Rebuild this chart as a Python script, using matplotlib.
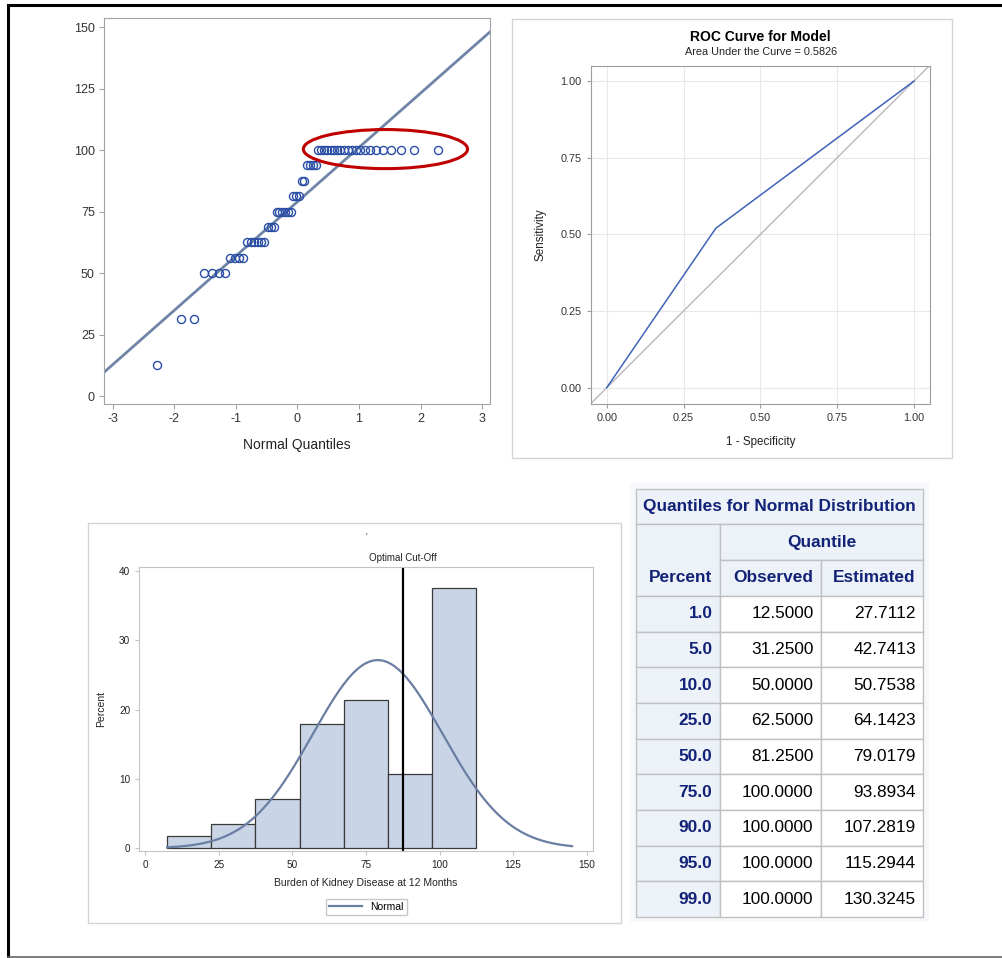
import numpy as np
import matplotlib.pyplot as plt
from matplotlib.patches import Ellipse, Rectangle
from statistics import NormalDist

plt.rcParams['font.family'] = ['Liberation Sans', 'DejaVu Sans']
plt.rcParams['axes.unicode_minus'] = False

W, H = 1002, 958

# burden of kidney disease at 12 months: observed levels and number of patients at each
levels = [12.5, 31.25, 50, 56.25, 62.5, 68.75, 75, 81.25, 87.5, 93.75, 100]
counts = [1, 2, 4, 4, 6, 3, 6, 3, 2, 4, 21]

# ROC curve for the model
fpr = [0.0, 0.355, 1.0]
tpr = [0.0, 0.52, 1.0]
auc = 0.5826
cutoff = 87.5

# quantiles table
pct = [1.0, 5.0, 10.0, 25.0, 50.0, 75.0, 90.0, 95.0, 99.0]
observed = [12.5, 31.25, 50.0, 62.5, 81.25, 100.0, 100.0, 100.0, 100.0]
estimated = [27.7112, 42.7413, 50.7538, 64.1423, 79.0179, 93.8934, 107.2819, 115.2944, 130.3245]

obs = np.repeat(levels, counts)
n = len(obs)
mu, sd = obs.mean(), obs.std(ddof=1)


def rect(l, t, r, b):
    # pixel box -> figure fraction
    return [l / W, 1 - b / H, (r - l) / W, (b - t) / H]


def style(ax, color, size, length):
    for s in ax.spines.values():
        s.set_color(color)
    ax.tick_params(colors=color, labelcolor='#333333', labelsize=size, length=length, width=0.8)


fig = plt.figure(figsize=(W / 100, H / 100), dpi=100)

# background layer in pixel coordinates (frame, panel borders, table)
bg = fig.add_axes([0, 0, 1, 1])
bg.set_xlim(0, W)
bg.set_ylim(H, 0)
bg.axis('off')
bg.plot([8, 8], [5, 957], color='black', lw=2.2)
bg.plot([8, W], [5, 5], color='black', lw=2.2)
bg.plot([8, W], [957, 957], color='#666666', lw=1.2)
bg.add_patch(Rectangle((511.7, 19.3), 440, 439, fill=False, ec='#d4d4d4', lw=1))
bg.add_patch(Rectangle((87.7, 523), 533.3, 400, fill=False, ec='#d4d4d4', lw=1))

# ---- normal QQ plot ----
nd = NormalDist()
qx = [nd.inv_cdf((i - 0.375) / (n + 0.25)) for i in range(1, n + 1)]

ax1 = fig.add_axes(rect(104, 18, 490, 404))
ax1.axline((0, mu), slope=sd, color='#6f84a6', lw=2, zorder=1)
ax1.plot(qx, obs, 'o', mfc='none', mec='#2a4ea6', ms=5.8, mew=1, zorder=2)
ax1.add_patch(Ellipse((1.43, 100.4), 2.67, 15.9, fill=False, ec='#c00000', lw=2.2, zorder=3))
ax1.set_xlim(-3.146, 3.13)
ax1.set_ylim(-3.25, 153.7)
ax1.set_xticks(range(-3, 4))
ax1.set_yticks(range(0, 151, 25))
style(ax1, '#a0a4a8', 9, 3.6)
ax1.tick_params(pad=3)
ax1.set_xlabel('Normal Quantiles', fontsize=10, color='#222222', labelpad=9)

# ---- ROC curve ----
ax2 = fig.add_axes(rect(590.7, 65.7, 930, 404))
ax2.axline((0, 0), (1, 1), color='#b8b8b8', lw=1)
ax2.plot(fpr, tpr, color='#3f63b8', lw=1.1)
ax2.set_xlim(-0.052, 1.052)
ax2.set_ylim(-0.053, 1.05)
ticks = [0, 0.25, 0.5, 0.75, 1.0]
ax2.set_xticks(ticks)
ax2.set_yticks(ticks)
ax2.set_xticklabels(['%.2f' % t for t in ticks])
ax2.set_yticklabels(['%.2f' % t for t in ticks])
ax2.grid(color='#e8e8e8', lw=0.8)
ax2.set_axisbelow(True)
style(ax2, '#9a9ea4', 7.8, 3)
ax2.set_xlabel('1 - Specificity', fontsize=8.4, color='#222222', labelpad=9)
ax2.set_ylabel('Sensitivity', fontsize=8.4, color='#222222', labelpad=10)
bg.text(760.7, 37, 'ROC Curve for Model', fontsize=10, fontweight='bold', ha='center', va='center')
bg.text(760.7, 51.7, 'Area Under the Curve = %.4f' % auc, fontsize=7.8, ha='center', va='center', color='#222222')

# ---- histogram with normal curve ----
ax3 = fig.add_axes(rect(139.3, 566.7, 592.7, 851))
edges = np.arange(7.5, 113, 15)
ax3.hist(obs, bins=edges, weights=np.full(n, 100 / n), color='#c9d5e6', edgecolor='#3a3a3a', lw=0.9)
xs = np.linspace(7.5, 145, 300)
ax3.plot(xs, 100 * 15 * np.exp(-0.5 * ((xs - mu) / sd) ** 2) / (sd * np.sqrt(2 * np.pi)),
         color='#6a7ea3', lw=1.6, label='Normal')
ax3.axvline(cutoff, color='black', lw=1.6)
ax3.text(cutoff, 1.032, 'Optimal Cut-Off', transform=ax3.get_xaxis_transform(),
         ha='center', va='center', fontsize=7, color='#222222')
ax3.set_xlim(-1.94, 152)
ax3.set_ylim(-0.39, 40.6)
ax3.set_xticks(range(0, 151, 25))
ax3.set_yticks(range(0, 41, 10))
style(ax3, '#c4c4c4', 7.2, 3)
ax3.tick_params(labelcolor='#222222')
ax3.set_xlabel('Burden of Kidney Disease at 12 Months', fontsize=7.5, color='#222222', labelpad=6)
ax3.set_ylabel('Percent', fontsize=7.5, color='#222222', labelpad=9)
ax3.legend(loc='center', bbox_to_anchor=(366.3 / W, 1 - 907 / H), bbox_transform=fig.transFigure,
           fontsize=7.5, fancybox=False, edgecolor='#c8c8c8', handlelength=3.2,
           borderpad=0.3, framealpha=1)
bg.text(366, 536, "'", fontsize=6, ha='center', va='center')

# ---- quantiles table ----
hdr_bg, hdr_fg, line = '#edf2f9', '#112277', '#c1c1c1'
cols = [636, 720, 821, 923.3]
bg.add_patch(Rectangle((630, 483), 299, 439, fc='#f6f8fb', ec='none'))


def cell(l, t, r, b, fc):
    bg.add_patch(Rectangle((l, t), r - l, b - t, fc=fc, ec=line, lw=1))


cell(636, 489, 923.3, 524.3, hdr_bg)
cell(636, 524.3, 720, 596, hdr_bg)
cell(720, 524.3, 923.3, 560.3, hdr_bg)
cell(720, 560.3, 821, 596, hdr_bg)
cell(821, 560.3, 923.3, 596, hdr_bg)
tfont = dict(fontsize=12.4, va='center')
bg.text(779.7, 506.7, 'Quantiles for Normal Distribution', ha='center', color=hdr_fg, fontweight='bold', **tfont)
bg.text(821.7, 542.3, 'Quantile', ha='center', color=hdr_fg, fontweight='bold', **tfont)
for txt, r in zip(['Percent', 'Observed', 'Estimated'], cols[1:]):
    bg.text(r - 7.5, 578, txt, ha='right', color=hdr_fg, fontweight='bold', **tfont)

row_h = (917 - 596) / len(pct)
for i, (p, o, e) in enumerate(zip(pct, observed, estimated)):
    t = 596 + i * row_h
    cell(cols[0], t, cols[1], t + row_h, hdr_bg)
    cell(cols[1], t, cols[2], t + row_h, 'white')
    cell(cols[2], t, cols[3], t + row_h, 'white')
    yc = t + row_h / 2
    bg.text(cols[1] - 7.5, yc, '%.1f' % p, ha='right', color=hdr_fg, fontweight='bold', **tfont)
    bg.text(cols[2] - 7.5, yc, '%.4f' % o, ha='right', color='black', **tfont)
    bg.text(cols[3] - 7.5, yc, '%.4f' % e, ha='right', color='black', **tfont)

fig.savefig('out.png', dpi=100)
